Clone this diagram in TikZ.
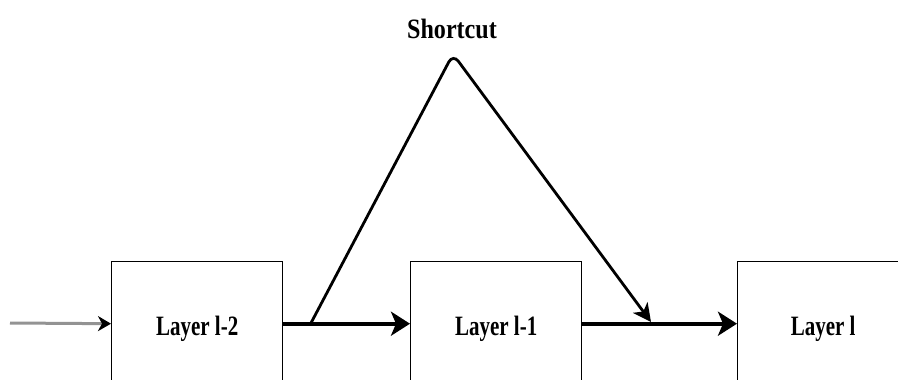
\documentclass[tikz,border=0pt]{standalone}
\usepackage{fontspec}
\usetikzlibrary{arrows.meta}
\newfontfamily\layerfont{Liberation Serif Bold}[FakeStretch=0.75]
\newfontfamily\shortfont{Liberation Serif Bold}[FakeStretch=0.86]
\tikzset{
  layerbox/.style={draw=black, line width=1.4pt, anchor=north west,
    minimum width=171pt, minimum height=124pt, inner sep=0pt,
    text height=24pt, text depth=0pt,
    font=\layerfont\fontsize{28}{28}\selectfont},
  inputarrow/.style={draw=gray!85, line width=3pt,
    -{Stealth[length=13pt,width=15pt,inset=4pt,black]}},
  mainarrow/.style={draw=black, line width=3.8pt,
    -{Stealth[length=19pt,width=24pt,inset=5pt]}},
  skiparrow/.style={draw=black, line width=2.8pt, rounded corners=9pt,
    -{Stealth[length=18pt,width=18pt,inset=5pt]}},
  skiplabel/.style={anchor=base, inner sep=0pt,
    font=\shortfont\fontsize{28}{28}\selectfont}
}
\begin{document}
\begin{tikzpicture}[x=1pt,y=-1pt]
  \useasboundingbox (0,0) rectangle (898,380);
  \clip (0,0) rectangle (898,380);

  % the three layers
  \node[layerbox] (l2) at (111,261) {Layer l-2};
  \node[layerbox] (l1) at (410,261) {Layer l-1};
  \node[layerbox] (l0) at (737,261) {Layer l};

  % forward path
  \coordinate (input) at (10,323);
  \draw[inputarrow] (input) -- (l2.west);
  \draw[mainarrow] (l2.east) -- (l1.west);
  \draw[mainarrow] (l1.east) -- (l0.west);

  % skip connection
  \coordinate (skipfrom) at (311,323);
  \coordinate (skiptop) at (453,54);
  \coordinate (skipto) at (651,322);
  \draw[skiparrow] (skipfrom) -- (skiptop) -- (skipto);
  \node[skiplabel] (sc) at (452,38) {Shortcut};
\end{tikzpicture}
\end{document}
